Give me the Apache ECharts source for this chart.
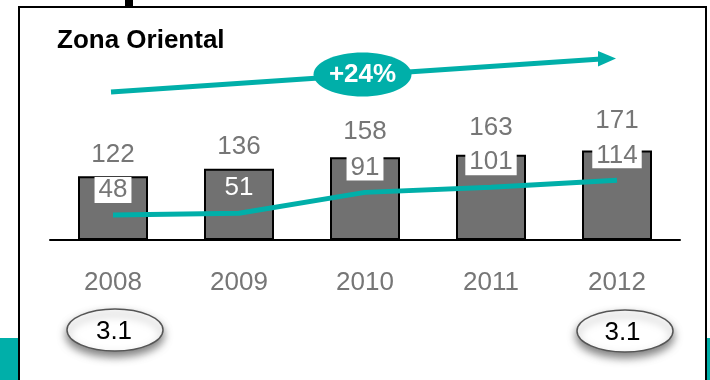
<!DOCTYPE html>
<html>
<head>
<meta charset="utf-8">
<script src="https://cdn.jsdelivr.net/npm/echarts@6/dist/echarts.min.js"></script>
<style>
html,body{margin:0;padding:0;background:#fff;}
#chart{width:710px;height:380px;}
</style>
</head>
<body>
<div id="chart"></div>
<script>
// ---- data ----
const years = ['2008', '2009', '2010', '2011', '2012'];
const totals = [122, 136, 158, 163, 171];
const lineValues = [48, 51, 91, 101, 114];
const titleText = 'Zona Oriental';
const growthText = '+24%';
const startRatio = '3.1';
const endRatio = '3.1';

// ---- styling ----
const FONT = '"Liberation Sans", Arial, sans-serif';
const TEAL = '#00AFA9';
const GRAY_TXT = '#767676';
const FS = 26;
const totalLabelGap = [8, 9, 12, 14, 17];
const whiteTextIdx = [1];

const chart = echarts.init(document.getElementById('chart'), null, {renderer: 'canvas'});

const option = {
  animation: false,
  backgroundColor: '#fff',
  grid: {left: 50, right: 30, top: 83, bottom: 140},
  xAxis: {
    type: 'category',
    data: years,
    axisLine: {show: true, lineStyle: {color: '#000', width: 2}},
    axisTick: {show: false},
    axisLabel: {color: GRAY_TXT, fontSize: FS, fontFamily: FONT, margin: 30, lineHeight: FS},
    splitLine: {show: false}
  },
  yAxis: {type: 'value', min: 0, max: 300, show: false},
  series: [
    {
      type: 'bar',
      barWidth: 70,
      data: totals.map((v, i) => ({value: v, label: {distance: totalLabelGap[i]}})),
      itemStyle: {color: '#717171', borderColor: '#000', borderWidth: 2},
      label: {show: true, position: 'top', color: GRAY_TXT, fontSize: FS, fontFamily: FONT, lineHeight: FS},
      z: 2
    },
    {
      type: 'line',
      data: lineValues.map((v, i) => whiteTextIdx.includes(i)
        ? {value: v, label: {color: '#fff', backgroundColor: 'transparent'}}
        : v),
      symbol: 'circle',
      symbolSize: 0,
      showSymbol: true,
      lineStyle: {color: TEAL, width: 5},
      itemStyle: {color: TEAL},
      label: {
        show: true, position: 'top', distance: 12,
        color: GRAY_TXT, fontSize: FS, fontFamily: FONT, lineHeight: FS,
        backgroundColor: '#fff', padding: [0, 4]
      },
      z: 3
    }
  ],
  graphic: [
    {type: 'rect', shape: {x: 19, y: 7, width: 687, height: 420}, style: {fill: 'none', stroke: '#000', lineWidth: 2}, z: 10},
    {type: 'rect', shape: {x: 125, y: 0, width: 8, height: 7}, style: {fill: '#000'}, z: 10},
    {type: 'rect', shape: {x: 0, y: 338, width: 18, height: 42}, style: {fill: TEAL}, z: 10},
    {type: 'rect', shape: {x: 707, y: 338, width: 3, height: 42}, style: {fill: TEAL}, z: 10},
    {type: 'text', x: 57, y: 41, style: {text: titleText, fill: '#000', font: 'bold 26px ' + FONT, verticalAlign: 'middle', align: 'left'}, z: 10},
    {type: 'line', shape: {x1: 111, y1: 92, x2: 601, y2: 59}, style: {stroke: TEAL, lineWidth: 5}, z: 10},
    {type: 'polygon', shape: {points: [[598, 51], [616, 58.5], [598, 66.5]]}, style: {fill: TEAL}, z: 10},
    {type: 'ellipse', shape: {cx: 362.5, cy: 74.5, rx: 49, ry: 22}, style: {fill: TEAL}, z: 11},
    {type: 'text', x: 362.5, y: 75, style: {text: growthText, fill: '#fff', font: 'bold 26px ' + FONT, align: 'center', verticalAlign: 'middle'}, z: 12},
    {type: 'ellipse', shape: {cx: 115, cy: 330, rx: 48, ry: 21}, style: {fill: '#fff', stroke: '#555', lineWidth: 1.5, shadowBlur: 8, shadowOffsetY: 5, shadowColor: 'rgba(0,0,0,0.5)'}, z: 11},
    {type: 'text', x: 114, y: 332, style: {text: startRatio, fill: '#000', font: FS + 'px ' + FONT, align: 'center', verticalAlign: 'middle'}, z: 12},
    {type: 'ellipse', shape: {cx: 625, cy: 331, rx: 48, ry: 21}, style: {fill: '#fff', stroke: '#555', lineWidth: 1.5, shadowBlur: 8, shadowOffsetY: 5, shadowColor: 'rgba(0,0,0,0.5)'}, z: 11},
    {type: 'text', x: 622.5, y: 333, style: {text: endRatio, fill: '#000', font: FS + 'px ' + FONT, align: 'center', verticalAlign: 'middle'}, z: 12}
  ]
};
chart.setOption(option);
</script>
</body>
</html>
